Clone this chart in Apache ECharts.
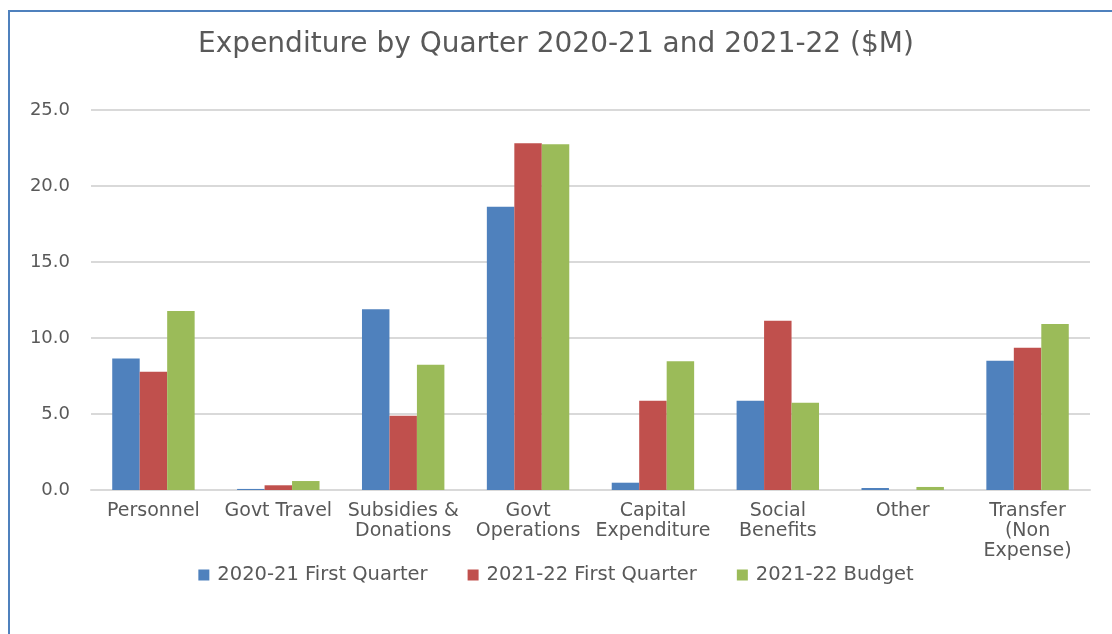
<!DOCTYPE html>
<html>
<head>
<meta charset="utf-8">
<script src="https://cdn.jsdelivr.net/npm/echarts@6/dist/echarts.min.js"></script>
<style>
  html, body { margin: 0; padding: 0; background: #fff; }
  #frame {
    position: absolute; left: 8px; top: 10px; width: 1200px; height: 700px;
    border-left: 2px solid #4f81bd; border-top: 2px solid #4f81bd;
  }
  #chart { position: absolute; left: 0; top: 0; width: 1112px; height: 634px; }
</style>
</head>
<body>
<div id="frame"></div>
<div id="chart"></div>
<script>
var categories = ['Personnel', 'Govt Travel', 'Subsidies &\nDonations', 'Govt\nOperations',
  'Capital\nExpenditure', 'Social\nBenefits', 'Other', 'Transfer\n(Non\nExpense)'];
var seriesNames = ['2020-21 First Quarter', '2021-22 First Quarter', '2021-22 Budget'];
var q1_2020 = [8.65, 0.07, 11.89, 18.64, 0.48, 5.87, 0.13, 8.5];
var q1_2021 = [7.78, 0.31, 4.89, 22.81, 5.87, 11.14, 0, 9.36];
var budget = [11.78, 0.59, 8.24, 22.74, 8.47, 5.74, 0.2, 10.92];
var colors = ['#4f81bd', '#c0504d', '#9bbb59'];

var font = 'DejaVu Sans';
var chart = echarts.init(document.getElementById('chart'), null, { renderer: 'canvas' });

function makeSeries(name, data, i) {
  return {
    name: name,
    type: 'bar',
    data: data,
    barGap: '0%',
    barCategoryGap: '34%',
    itemStyle: { color: colors[i] },
    animation: false
  };
}

chart.setOption({
  animation: false,
  title: {
    text: 'Expenditure by Quarter 2020-21 and 2021-22 ($M)',
    left: 'center',
    top: 26,
    textStyle: { fontFamily: font, fontSize: 28, fontWeight: 'normal', color: '#595959' }
  },
  grid: { left: 91, right: 22, top: 110, bottom: 144 },
  legend: {
    data: seriesNames,
    bottom: 44,
    left: 'center',
    itemWidth: 11,
    itemHeight: 11,
    itemGap: 40,
    icon: 'rect',
    textStyle: { fontFamily: font, fontSize: 19.5, color: '#595959', padding: [0, 0, 0, 3] }
  },
  xAxis: {
    type: 'category',
    data: categories,
    axisLine: { lineStyle: { color: '#d9d9d9', width: 2 } },
    axisTick: { show: false },
    axisLabel: {
      interval: 0,
      margin: 11,
      lineHeight: 20,
      fontFamily: font,
      fontSize: 19,
      color: '#595959'
    }
  },
  yAxis: {
    type: 'value',
    min: 0,
    max: 25,
    interval: 5,
    axisLine: { show: false },
    axisTick: { show: false },
    splitLine: { lineStyle: { color: '#d9d9d9', width: 2 } },
    axisLabel: {
      margin: 21,
      fontFamily: font,
      fontSize: 18,
      color: '#595959',
      formatter: function (v) { return v.toFixed(1); }
    }
  },
  series: [
    makeSeries(seriesNames[0], q1_2020, 0),
    makeSeries(seriesNames[1], q1_2021, 1),
    makeSeries(seriesNames[2], budget, 2)
  ]
});
</script>
</body>
</html>
